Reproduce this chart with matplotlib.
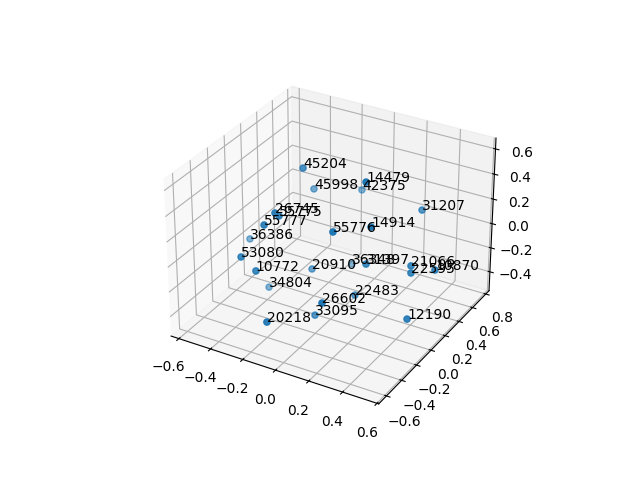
from matplotlib import pyplot as plt
from matplotlib.colors import to_rgba
import numpy as np

labels = ["45204","45998","26745","55775","55777","36386","53080","55776","10772","20910","34804",
          "26602","33095","20218","22483","36348","31397","21066","22595","10870","42375","14479","14914","31207","12190"]
xs = np.array([-0.238,-0.301,-0.307,-0.239,-0.204,-0.560,-0.357,0.153,-0.181,-0.201,-0.379,
               0.195,0.011,-0.045,0.167,-0.042,0.219,0.464,0.473,0.539,-0.028,0.195,0.275,0.402,0.572])
ys = np.array([0.150,0.419,-0.068,-0.154,-0.404,0.108,-0.391,-0.294,-0.556,0.180,-0.016,
               -0.521,-0.225,-0.703,-0.039,0.379,-0.009,0.039,0.019,0.197,0.476,0.035,-0.073,0.323,-0.255])
zs = np.array([0.497,0.173,0.226,0.273,0.346,-0.173,0.028,0.368,0.077,-0.324,-0.437,
               -0.045,-0.390,-0.189,-0.269,-0.329,-0.014,0.041,-0.001,-0.050,0.234,0.598,0.335,0.308,-0.171])
# how dark each point looks in the picture
shade = [.8,.6,.9,.9,.9,.55,.85,1,.85,.65,.55,1,.75,.95,.7,.5,.85,.85,.85,.85,.55,1,1,.75,.9]

fig = plt.figure(figsize=(6.4, 4.8), dpi=100)
ax = fig.add_subplot(projection='3d')
ax.scatter(xs, ys, zs, c=[to_rgba("C0", a) for a in shade], depthshade=False)
for i in range(len(labels)):
    ax.text(xs[i], ys[i], zs[i], labels[i])
ax.set_xlim(-0.65, 0.61)
ax.set_ylim(-0.70, 0.85)
ax.set_zlim(-0.56, 0.685)

fig.savefig("out.png")
